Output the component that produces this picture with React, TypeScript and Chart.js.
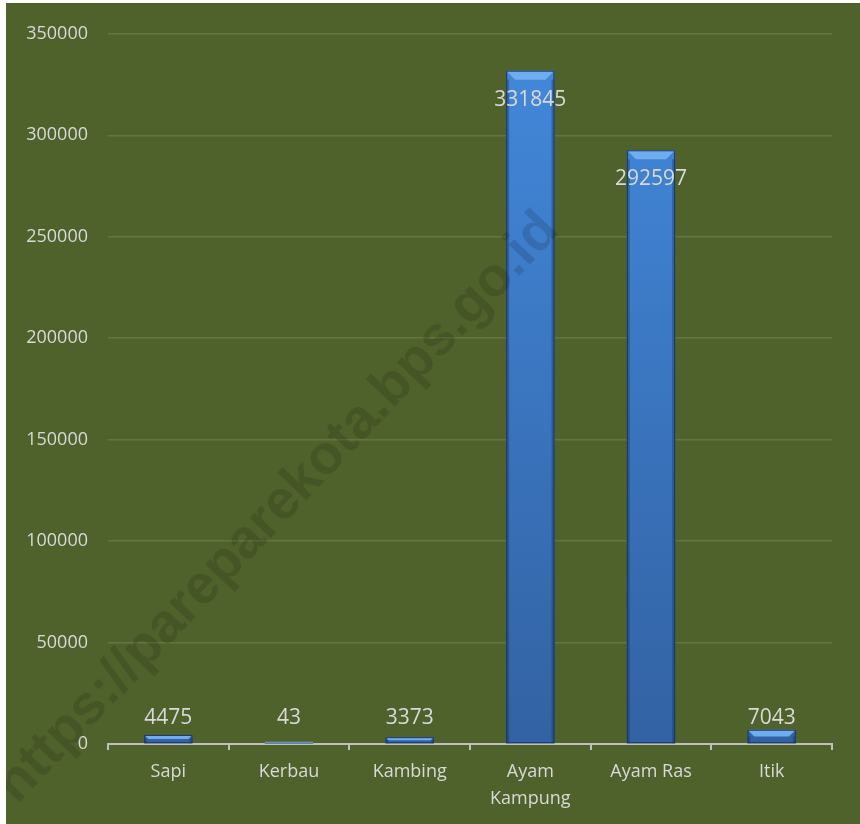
import React, { useEffect, useRef } from "react";
import { Chart, registerables } from "chart.js";

Chart.register(...registerables);

const categories: (string | string[])[] = ["Sapi", "Kerbau", "Kambing", ["Ayam", "Kampung"], "Ayam Ras", "Itik"];
const values: number[] = [4475, 43, 3373, 331845, 292597, 7043];
const yTicks: number[] = [0, 50000, 100000, 150000, 200000, 250000, 300000, 350000];
const watermark = "https://pareparekota.bps.go.id";

const BG = "#50622b";
const TEXT = "#d9d9d9";
const FONT = "'Open Sans', 'Noto Sans', sans-serif";

const bgPlugin = {
  id: "bg",
  beforeDraw(chart: any) {
    const { ctx, width, height } = chart;
    ctx.save();
    ctx.fillStyle = BG;
    ctx.fillRect(0, 0, width, height);
    ctx.restore();
  },
};

const barDecor = {
  id: "barDecor",
  afterDatasetsDraw(chart: any) {
    const { ctx } = chart;
    const meta = chart.getDatasetMeta(0);
    ctx.save();
    meta.data.forEach((bar: any) => {
      const { x, y, base, width } = bar.getProps(["x", "y", "base", "width"], true);
      const l = x - width / 2;
      const r = x + width / 2;
      const h = base - y;
      if (h < 0.5) {
        ctx.fillStyle = "rgba(120,160,215,0.8)";
        ctx.fillRect(l, base - 1.5, width, 1.5);
        return;
      }
      const bev = Math.min(9, h * 0.5);
      ctx.beginPath();
      ctx.moveTo(l, y);
      ctx.lineTo(r, y);
      ctx.lineTo(r - bev, y + bev);
      ctx.lineTo(l + bev, y + bev);
      ctx.closePath();
      ctx.fillStyle = "#70adf0";
      ctx.fill();
      ctx.fillStyle = "rgba(20,45,90,0.35)";
      ctx.fillRect(l, y + bev, 3, h - bev);
      ctx.fillRect(r - 3, y + bev, 3, h - bev);
      ctx.strokeStyle = "#1c355c";
      ctx.lineWidth = 1;
      ctx.strokeRect(l + 0.5, y + 0.5, width - 1, h - 1);
    });
    ctx.restore();
  },
};

const labelPlugin = {
  id: "valLabels",
  afterDatasetsDraw(chart: any) {
    const { ctx } = chart;
    const meta = chart.getDatasetMeta(0);
    ctx.save();
    ctx.font = `21px ${FONT}`;
    ctx.fillStyle = TEXT;
    ctx.textAlign = "center";
    ctx.textBaseline = "middle";
    meta.data.forEach((bar: any, i: number) => {
      const v = values[i];
      const { x, y, base } = bar.getProps(["x", "y", "base"], true);
      const ty = v > 100000 ? y + 29 : Math.min(y - 12, base - 25);
      ctx.fillText(String(v), x, ty);
    });
    ctx.restore();
  },
};

const watermarkPlugin = {
  id: "watermark",
  afterDraw(chart: any) {
    const { ctx } = chart;
    ctx.save();
    ctx.translate(272, 505);
    ctx.rotate((-46.5 * Math.PI) / 180);
    ctx.font = `bold 46px 'Liberation Sans', Arial, sans-serif`;
    const w = ctx.measureText(watermark).width;
    const target = 790;
    ctx.scale(target / w, target / w);
    ctx.fillStyle = "rgba(0,0,0,0.13)";
    ctx.textAlign = "center";
    ctx.textBaseline = "middle";
    ctx.fillText(watermark, 0, 0);
    ctx.restore();
  },
};

export default function App() {
  const ref = useRef<HTMLCanvasElement | null>(null);

  useEffect(() => {
    document.body.style.margin = "0";
    document.body.style.background = "#ffffff";
    const canvas = ref.current;
    if (!canvas) return;
    const chart = new Chart(canvas, {
      type: "bar",
      data: {
        labels: categories,
        datasets: [
          {
            data: values,
            backgroundColor: (c: any) => {
              const area = c.chart.chartArea;
              if (!area) return "#3b78c8";
              const g = c.chart.ctx.createLinearGradient(0, area.top, 0, area.bottom);
              g.addColorStop(0, "#4389dc");
              g.addColorStop(1, "#3262a3");
              return g;
            },
            borderWidth: 0,
            barPercentage: 0.4,
            categoryPercentage: 1,
          },
        ],
      },
      options: {
        animation: false,
        responsive: false,
        maintainAspectRatio: false,
        layout: { padding: { top: 29, right: 28, left: 0, bottom: 0 } },
        plugins: {
          legend: { display: false },
          tooltip: { enabled: false },
        },
        scales: {
          x: {
            grid: {
              display: true,
              drawOnChartArea: false,
              drawTicks: true,
              tickLength: 6,
              color: "#bfbfbf",
              lineWidth: 2,
              offset: true,
            },
            border: { display: true, color: "#bfbfbf", width: 2 },
            ticks: {
              color: TEXT,
              font: { family: FONT, size: 18, lineHeight: 1.5 },
              padding: 8,
              maxRotation: 0,
              autoSkip: false,
            },
            afterFit(scale: any) {
              scale.height = 80;
            },
          },
          y: {
            min: 0,
            max: 350000,
            afterBuildTicks(scale: any) {
              scale.ticks = yTicks.map((v) => ({ value: v }));
            },
            grid: {
              color: "#647541",
              lineWidth: 1.5,
              drawTicks: false,
            },
            border: { display: false },
            ticks: {
              color: TEXT,
              font: { family: FONT, size: 18 },
              padding: 20,
              callback: (v: any) => String(v),
            },
            afterFit(scale: any) {
              scale.width = 102;
            },
          },
        },
      },
      plugins: [bgPlugin, barDecor, labelPlugin, watermarkPlugin],
    } as any);
    return () => chart.destroy();
  }, []);

  return (
    <div style={{ paddingLeft: 6, paddingTop: 3, background: "#fff" }}>
      <canvas ref={ref} width={854} height={821} style={{ display: "block" }} />
    </div>
  );
}
